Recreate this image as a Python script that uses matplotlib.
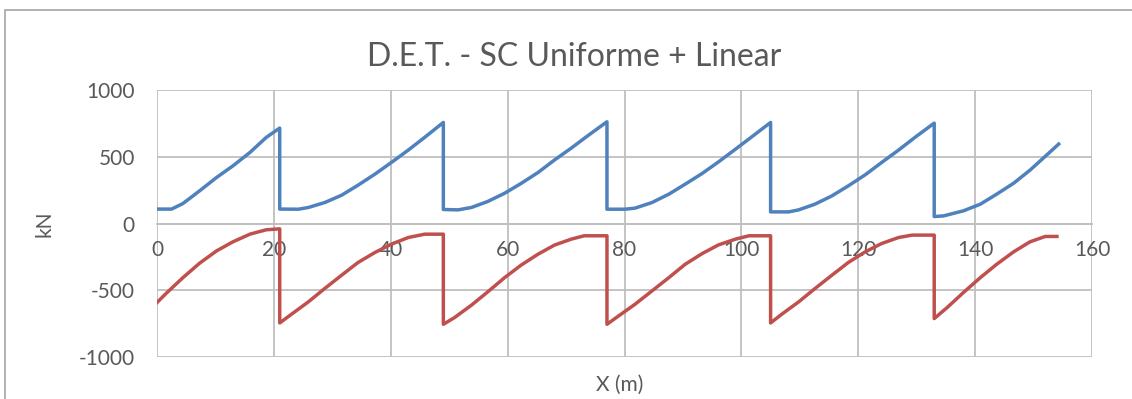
import matplotlib
matplotlib.use("Agg")
import matplotlib.pyplot as plt
from matplotlib.patches import Rectangle

plt.rcParams["font.family"] = ["Lato", "DejaVu Sans"]
plt.rcParams["axes.unicode_minus"] = False

# ---- data ----
x_max = [0, 2.5, 4.45, 7.3, 10.2, 13.0, 15.9, 18.7, 21, 21,
         24.2, 25.9, 28.7, 31.6, 34.4, 37.3, 40.1, 43.0, 45.8, 49, 49,
         51.5, 53.8, 56.6, 59.5, 62.3, 65.2, 68.0, 70.9, 73.7, 77, 77,
         80.1, 81.8, 84.7, 87.6, 90.4, 93.3, 96.1, 99.0, 101.8, 105, 105,
         108.1, 109.8, 112.6, 115.5, 118.3, 121.2, 124.0, 126.9, 129.7, 133, 133,
         134.6, 138.0, 140.9, 143.7, 146.6, 149.4, 152.3, 154.3]
v_max = [108, 108, 150, 245, 345, 432, 532, 645, 715, 108,
         107, 120, 157, 212, 287, 370, 457, 550, 645, 757, 105,
         102, 120, 165, 227, 300, 382, 475, 565, 657, 762, 107,
         107, 115, 157, 220, 295, 375, 462, 557, 650, 757, 87,
         87, 102, 145, 207, 282, 365, 457, 550, 645, 752, 52,
         57, 95, 145, 220, 302, 400, 515, 595]

x_min = [0, 1.6, 4.45, 7.3, 10.2, 13.0, 15.9, 18.7, 21, 21,
         23.0, 25.9, 28.7, 31.6, 34.4, 37.3, 40.1, 43.0, 45.8, 49, 49,
         50.9, 53.8, 56.6, 59.5, 62.3, 65.2, 68.0, 70.9, 73.1, 77, 77,
         79.0, 81.8, 84.7, 87.6, 90.4, 93.3, 96.1, 99.0, 101.3, 105, 105,
         106.9, 109.8, 112.6, 115.5, 118.3, 121.2, 124.0, 126.9, 129.2, 133, 133,
         135.2, 138.0, 140.9, 143.7, 146.6, 149.4, 152.0, 154]
v_min = [-592, -522, -405, -297, -205, -137, -80, -47, -40, -745,
         -680, -587, -487, -387, -292, -217, -155, -105, -80, -80, -755,
         -705, -612, -512, -405, -312, -230, -162, -117, -92, -92, -755,
         -692, -605, -505, -405, -305, -225, -160, -117, -92, -92, -745,
         -680, -587, -487, -387, -292, -212, -150, -105, -87, -87, -712,
         -630, -517, -405, -305, -212, -137, -97, -97]

x_ticks = [0, 20, 40, 60, 80, 100, 120, 140, 160]
y_ticks = [-1000, -500, 0, 500, 1000]

TXT = "#595959"
GRID = "#bfbfbf"

fig = plt.figure(figsize=(11.32, 3.99), dpi=100)
ax = fig.add_axes([157 / 1132, 1 - 357 / 399, 935 / 1132, 267 / 399])

ax.plot(x_max, v_max, color="#4F81BD", lw=2.5, solid_joinstyle="round")
ax.plot(x_min, v_min, color="#C0504D", lw=2.5, solid_joinstyle="round")

ax.set_xlim(0, 160); ax.set_ylim(-1000, 1000)
ax.set_xticks(x_ticks); ax.set_yticks(y_ticks)
ax.grid(True, color=GRID, lw=1.3)
ax.set_axisbelow(True)
for s in ("top", "right", "left"):
    ax.spines[s].set_visible(False)
ax.spines["bottom"].set_position(("data", 0))
ax.spines["bottom"].set_color(GRID)
ax.spines["bottom"].set_linewidth(1.3)
ax.tick_params(length=0, labelsize=15, labelcolor=TXT)
ax.tick_params(axis="x", pad=12)
ax.tick_params(axis="y", pad=16)

fig.text(0.507, 1 - 57 / 399, "D.E.T. - SC Uniforme + Linear", ha="center", va="center",
         fontsize=23, color=TXT)
fig.text(45 / 1132, 1 - 224 / 399, "kN", rotation=90, ha="center", va="center",
         fontsize=15, color=TXT)
fig.text(620 / 1132, 1 - 385 / 399, "X (m)", ha="center", va="center",
         fontsize=15, color=TXT)

# chart frame
fig.patches.append(Rectangle((5 / 1132, -0.1), 1.2, 1 - 10 / 399 + 0.1,
                             transform=fig.transFigure, fill=False,
                             edgecolor="#a6a6a6", lw=1.2))

fig.savefig("out.png", dpi=100)
